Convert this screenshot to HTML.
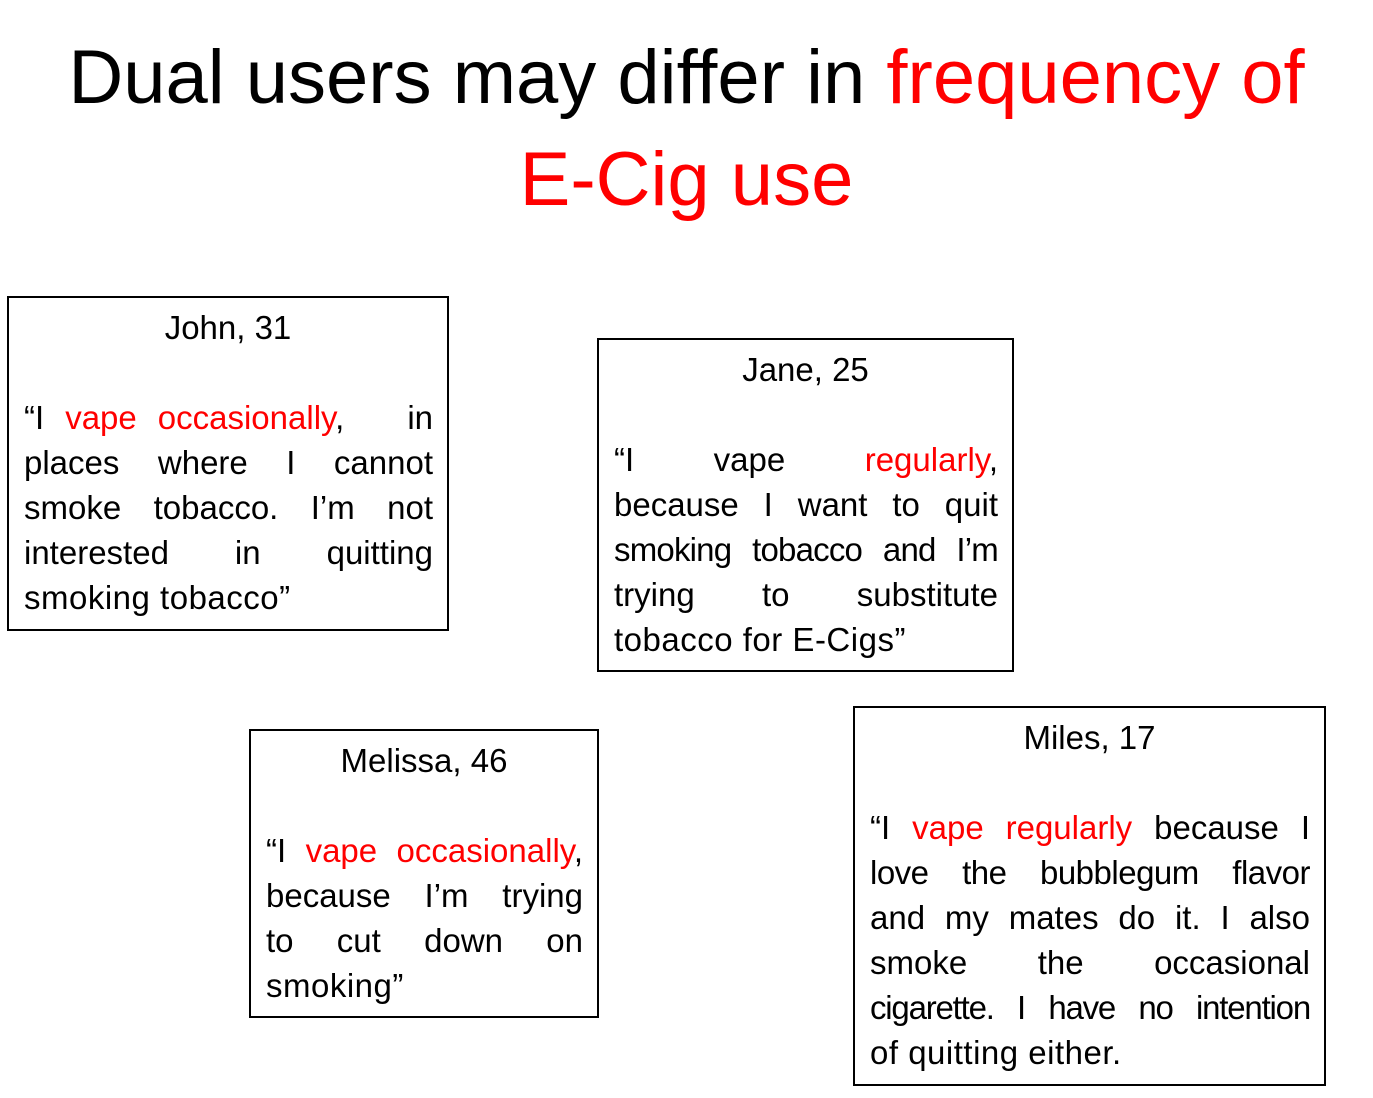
<!DOCTYPE html>
<html><head><meta charset="utf-8"><style>
body{margin:0;width:1373px;height:1098px;background:#fff;position:relative;overflow:hidden;font-family:"Liberation Sans",sans-serif;color:#000}
.t{position:absolute;left:0;width:1373px;text-align:center;font-size:76px;line-height:90px}
.r{color:#f00}
.b{position:absolute;border:2px solid #000;box-sizing:border-box}
.l{position:absolute;font-size:33px;line-height:40px;white-space:nowrap;text-align:justify;text-align-last:justify}
.l.e{text-align:left;text-align-last:left;letter-spacing:0.5px}
.n{position:absolute;font-size:33px;line-height:40px;text-align:center}
</style></head><body>
<div class="t" style="top:33px">Dual users may differ in <span class="r">frequency of</span></div>
<div class="t" style="top:135px"><span class="r">E-Cig use</span></div>

<div class="b" style="left:7px;top:296px;width:442px;height:335px"></div>
<div class="n" style="left:7px;width:442px;top:308px">John, 31</div>
<div class="l" style="left:24px;width:409px;top:398px">“I <span class="r">vape occasionally</span>, &nbsp; in</div>
<div class="l" style="left:24px;width:409px;top:443px">places where I cannot</div>
<div class="l" style="left:24px;width:409px;top:488px">smoke tobacco. I’m not</div>
<div class="l" style="left:24px;width:409px;top:533px">interested in quitting</div>
<div class="l e" style="left:24px;width:409px;top:578px">smoking tobacco”</div>

<div class="b" style="left:597px;top:338px;width:417px;height:334px"></div>
<div class="n" style="left:597px;width:417px;top:350px">Jane, 25</div>
<div class="l" style="left:614px;width:384px;top:440px">“I vape <span class="r">regularly</span>,</div>
<div class="l" style="left:614px;width:384px;top:485px">because I want to quit</div>
<div class="l" style="left:614px;width:384px;top:530px;letter-spacing:-0.8px">smoking tobacco and I’m</div>
<div class="l" style="left:614px;width:384px;top:575px">trying to substitute</div>
<div class="l e" style="left:614px;width:384px;top:620px">tobacco for E-Cigs”</div>

<div class="b" style="left:249px;top:729px;width:350px;height:289px"></div>
<div class="n" style="left:249px;width:350px;top:741px">Melissa, 46</div>
<div class="l" style="left:266px;width:317px;top:831px">“I <span class="r">vape occasionally</span>,</div>
<div class="l" style="left:266px;width:317px;top:876px">because I’m trying</div>
<div class="l" style="left:266px;width:317px;top:921px">to cut down on</div>
<div class="l e" style="left:266px;width:317px;top:966px">smoking”</div>

<div class="b" style="left:853px;top:706px;width:473px;height:380px"></div>
<div class="n" style="left:853px;width:473px;top:718px">Miles, 17</div>
<div class="l" style="left:870px;width:440px;top:808px">“I <span class="r">vape regularly</span> because I</div>
<div class="l" style="left:870px;width:440px;top:853px;letter-spacing:-0.5px">love the bubblegum flavor</div>
<div class="l" style="left:870px;width:440px;top:898px">and my mates do it. I also</div>
<div class="l" style="left:870px;width:440px;top:943px">smoke the occasional</div>
<div class="l" style="left:870px;width:440px;top:988px;letter-spacing:-1.2px">cigarette. I have no intention</div>
<div class="l e" style="left:870px;width:440px;top:1033px">of quitting either.</div>
</body></html>
